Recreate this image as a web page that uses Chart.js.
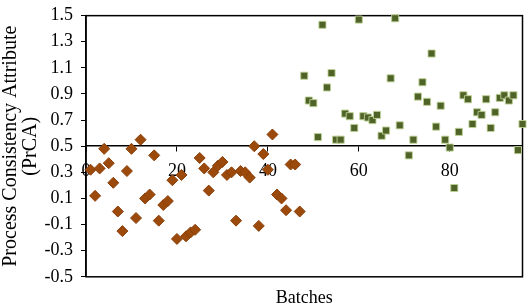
<!DOCTYPE html>
<html>
<head>
<meta charset="utf-8">
<script src="https://cdn.jsdelivr.net/npm/chart.js@4.4.1/dist/chart.umd.min.js"></script>
<style>
  body { margin: 0; background: #fff; }
</style>
</head>
<body>
<canvas id="myChart" width="529" height="306"></canvas>
<script>
// Données
var orangeBatches = [1, 2, 3, 4, 5, 6, 7, 8, 9, 10, 11, 12, 13, 14, 15, 16, 17, 18, 19, 20,
  21, 22, 23, 24, 25, 26, 27, 28, 29, 30, 31, 32, 33, 34, 35, 36, 37, 38, 39, 40,
  41, 42, 43, 44, 45, 46, 47];
var orangeValues = [0.32, 0.12, 0.33, 0.48, 0.37, 0.22, 0.00, -0.15, 0.31, 0.48,
  -0.05, 0.55, 0.10, 0.13, 0.43, -0.07, 0.05, 0.08, 0.24, -0.21,
  0.28, -0.19, -0.16, -0.14, 0.41, 0.33, 0.16, 0.30, 0.35, 0.38,
  0.28, 0.30, -0.07, 0.31, 0.30, 0.26, 0.50, -0.11, 0.44, 0.32,
  0.59, 0.13, 0.10, 0.01, 0.36, 0.36, 0.00];

var greenBatches = [48, 49, 50, 51, 52, 53, 54, 55, 56, 57, 58, 59, 60, 61, 62, 63, 64, 65, 66, 67,
  68, 69, 71, 72, 73, 74, 75, 76, 77, 78, 79, 80, 81, 82, 83, 84, 85, 86, 87, 88,
  89, 90, 91, 92, 93, 94, 95, 96];
var greenValues = [1.04, 0.85, 0.83, 0.57, 1.43, 0.95, 1.06, 0.55, 0.55, 0.75,
  0.73, 0.64, 1.47, 0.73, 0.72, 0.70, 0.74, 0.58, 0.62, 1.02,
  1.48, 0.66, 0.43, 0.55, 0.88, 0.99, 0.84, 1.21, 0.65, 0.81,
  0.55, 0.49, 0.18, 0.61, 0.89, 0.86, 0.67, 0.76, 0.74, 0.86,
  0.64, 0.76, 0.87, 0.89, 0.85, 0.89, 0.47, 0.67];

var xTicks = [0, 20, 40, 60, 80];
var yTicks = [-0.5, -0.3, -0.1, 0.1, 0.3, 0.5, 0.7, 0.9, 1.1, 1.3, 1.5];

function toPoints(xs, ys) {
  return xs.map(function(x, i) { return { x: x, y: ys[i] }; });
}

var serif = 'Liberation Serif';

// Cadre autour de la zone du graphique
var framePlugin = {
  id: 'frame',
  beforeDatasetsDraw: function(chart) {
    var a = chart.chartArea;
    var ctx = chart.ctx;
    ctx.save();
    ctx.strokeStyle = '#000';
    ctx.lineWidth = 1.5;
    ctx.strokeRect(a.left, a.top, a.right - a.left, a.bottom - a.top);
    ctx.restore();
  }
};

var config = {
  type: 'scatter',
  data: {
    datasets: [{
      label: 'Batches 1-47',
      data: toPoints(orangeBatches, orangeValues),
      pointStyle: 'rectRot',
      pointRadius: 5.5,
      backgroundColor: '#9C4A0C',
      borderColor: '#8A3E08',
      borderWidth: 1,
      clip: false
    }, {
      label: 'Batches 48-96',
      data: toPoints(greenBatches, greenValues),
      pointStyle: 'rect',
      pointRadius: 5,
      backgroundColor: '#4F6228',
      borderColor: 'rgba(190,210,150,0.9)',
      borderWidth: 1,
      clip: false
    }]
  },
  options: {
    responsive: false,
    animation: false,
    devicePixelRatio: 1,
    layout: { padding: { top: 0, right: 6, left: 0, bottom: 0 } },
    plugins: {
      legend: { display: false },
      tooltip: { enabled: false }
    },
    scales: {
      x: {
        type: 'linear',
        min: 0,
        max: 96,
        position: { y: 0.5 },
        afterBuildTicks: function(scale) {
          scale.ticks = xTicks.map(function(v) { return { value: v }; });
        },
        ticks: {
          color: '#000',
          padding: 9,
          font: { family: serif, size: 18 },
          maxRotation: 0
        },
        grid: { display: true, drawOnChartArea: false, drawTicks: true, tickLength: 5, color: '#000' },
        border: { display: true, color: '#000', width: 1.5 }
      },
      xb: {
        type: 'linear',
        axis: 'x',
        position: 'bottom',
        min: 0,
        max: 96,
        ticks: { display: false },
        grid: { display: false },
        border: { display: false },
        title: {
          display: true,
          text: 'Batches',
          color: '#000',
          font: { family: serif, size: 18, lineHeight: 0.9 },
          padding: { top: 5, bottom: 0 }
        }
      },
      y: {
        min: -0.5,
        max: 1.5,
        afterBuildTicks: function(scale) {
          scale.ticks = yTicks.map(function(v) { return { value: v }; });
        },
        afterFit: function(scale) {
          scale.width = 86;
        },
        ticks: {
          color: '#000',
          padding: 8,
          font: { family: serif, size: 18, lineHeight: 0.85 },
          callback: function(v) { return v.toFixed(1); }
        },
        grid: { display: true, drawOnChartArea: false, drawTicks: true, tickLength: 5, color: '#000' },
        border: { display: true, color: '#000', width: 1.5 },
        title: {
          display: true,
          text: ['Process Consistency Attribute', '(PrCA)'],
          color: '#000',
          font: { family: serif, size: 20, lineHeight: 1.0 },
          padding: { top: 1, bottom: 1 }
        }
      }
    }
  },
  plugins: [framePlugin]
};

var ctx = document.getElementById('myChart').getContext('2d');
var myChart = new Chart(ctx, config);
</script>
</body>
</html>
